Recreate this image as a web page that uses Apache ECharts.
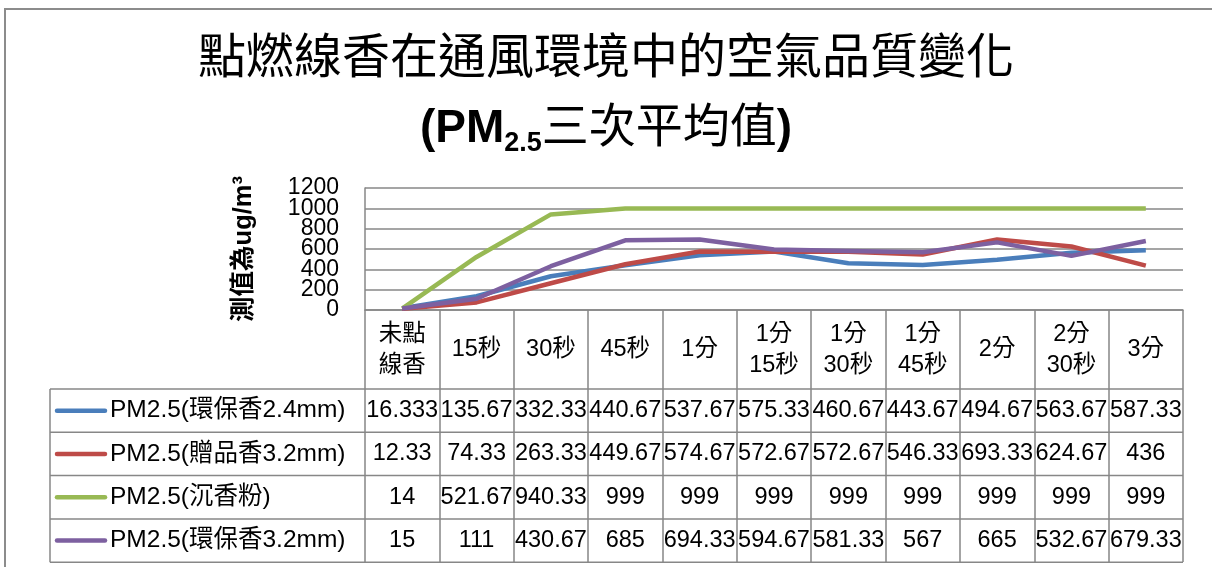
<!DOCTYPE html>
<html><head><meta charset="utf-8">
<script src="https://cdn.jsdelivr.net/npm/echarts@6/dist/echarts.min.js"></script>
<style>html,body{margin:0;padding:0;background:#fff}#c{width:1212px;height:567px}</style>
</head><body><div id="c"></div>
<script>
var categories = ['未點\n線香','15秒','30秒','45秒','1分','1分\n15秒','1分\n30秒','1分\n45秒','2分','2分\n30秒','3分'];
var seriesNames = ['PM2.5(環保香2.4mm)','PM2.5(贈品香3.2mm)','PM2.5(沉香粉)','PM2.5(環保香3.2mm)'];
var s1 = [16.333,135.67,332.33,440.67,537.67,575.33,460.67,443.67,494.67,563.67,587.33];
var s2 = [12.33,74.33,263.33,449.67,574.67,572.67,572.67,546.33,693.33,624.67,436];
var s3 = [14,521.67,940.33,999,999,999,999,999,999,999,999];
var s4 = [15,111,430.67,685,694.33,594.67,581.33,567,665,532.67,679.33];
var colors = ['#4A7EBB','#BE4B48','#98B954','#7D60A0'];
var allSeries = [s1,s2,s3,s4];

var FONT = '"Liberation Sans","Noto Sans CJK TC",sans-serif';
var GRID_COL = '#878787';
var chart = echarts.init(document.getElementById('c'));
function yLabelAxis(showMod, main){
  return {type:'value',min:0,max:1200,interval:200,position:'left',offset:0,
    name: main ? '測值為ug/m³' : '',nameLocation:'middle',nameGap:108,nameRotate:90,
    nameTextStyle:{fontSize:25.5,fontWeight:'bold',color:'#000',fontFamily:FONT},
    axisLine:{show:main,lineStyle:{color:GRID_COL,width:1.5}},
    axisTick:{show:false},
    axisLabel:{fontSize:23,color:'#000',margin:26,fontFamily:FONT,
      formatter:function(v){return (v % 400 === showMod) ? String(v) : '';}},
    splitLine:{show:main,lineStyle:{color:GRID_COL,width:1.5}}
  };
}
var option = {
  animation:false,
  backgroundColor:'#fff',
  textStyle:{fontFamily:FONT,color:'#000'},
  title:[
    {text:'點燃線香在通風環境中的空氣品質變化',left:'center',top:31,
     textStyle:{fontFamily:FONT,fontSize:48,fontWeight:'normal',color:'#000'}},
    {text:'{p|(PM}{s|2.5}{c|三次平均值}{p|)}',left:'center',top:96,
     textStyle:{rich:{
       p:{fontFamily:FONT,fontSize:46,fontWeight:'bold',color:'#000',lineHeight:56,verticalAlign:'middle'},
       s:{fontFamily:FONT,fontSize:27,fontWeight:'bold',color:'#000',lineHeight:26,verticalAlign:'bottom'},
       c:{fontFamily:FONT,fontSize:47,fontWeight:'normal',color:'#000',lineHeight:56,verticalAlign:'middle'}
     }}}
  ],
  grid:{left:365,right:29,top:188,bottom:257,containLabel:false},
  xAxis:{type:'category',data:categories,boundaryGap:true,
    axisLine:{lineStyle:{color:GRID_COL,width:1.5}},
    axisTick:{show:true,interval:0,length:252,lineStyle:{color:GRID_COL,width:1.5}},
    axisLabel:{interval:0,fontSize:23.5,lineHeight:31,color:'#000',margin:40,verticalAlign:'middle',fontFamily:FONT}
  },
  yAxis:[yLabelAxis(0,true), yLabelAxis(200,false)],
  series: allSeries.map(function(d,i){
    return {name:seriesNames[i],type:'line',data:d,symbol:'none',yAxisIndex:0,
      lineStyle:{color:colors[i],width:4.5},itemStyle:{color:colors[i]},z:3+i};
  })
};
chart.setOption(option);

// data table
var axisY = chart.convertToPixel({yAxisIndex:0},0);
var rowTop = axisY + 79, rowH = 43.3;
var tableLeft = 50;
var rightX = chart.convertToPixel({xAxisIndex:0},categories.length-1) + 
  (chart.convertToPixel({xAxisIndex:0},1)-chart.convertToPixel({xAxisIndex:0},0))/2;
var g = [];
g.push({type:'rect',shape:{x:5,y:9,width:1400,height:800},style:{fill:'none',stroke:'#8c8c8c',lineWidth:2},silent:true});
for (var r=0;r<=allSeries.length;r++){
  var yy = rowTop + r*rowH;
  g.push({type:'line',shape:{x1:tableLeft,y1:yy,x2:rightX,y2:yy},style:{stroke:GRID_COL,lineWidth:1.5}});
}
g.push({type:'line',shape:{x1:tableLeft,y1:rowTop,x2:tableLeft,y2:rowTop+allSeries.length*rowH},style:{stroke:GRID_COL,lineWidth:1.5}});
allSeries.forEach(function(d,r){
  var cy = rowTop + r*rowH + rowH/2;
  g.push({type:'line',shape:{x1:57,y1:cy,x2:105,y2:cy},style:{stroke:colors[r],lineWidth:4.5,lineCap:'round'}});
  g.push({type:'text',x:110,y:cy,style:{text:seriesNames[r],font:'24.5px '+FONT,fill:'#000',verticalAlign:'middle',align:'left'}});
  d.forEach(function(v,i){
    var cx = chart.convertToPixel({xAxisIndex:0},i);
    g.push({type:'text',x:cx,y:cy,style:{text:String(v),font:'23.5px '+FONT,fill:'#000',align:'center',verticalAlign:'middle'}});
  });
});
chart.setOption({graphic:g});
</script></body></html>
